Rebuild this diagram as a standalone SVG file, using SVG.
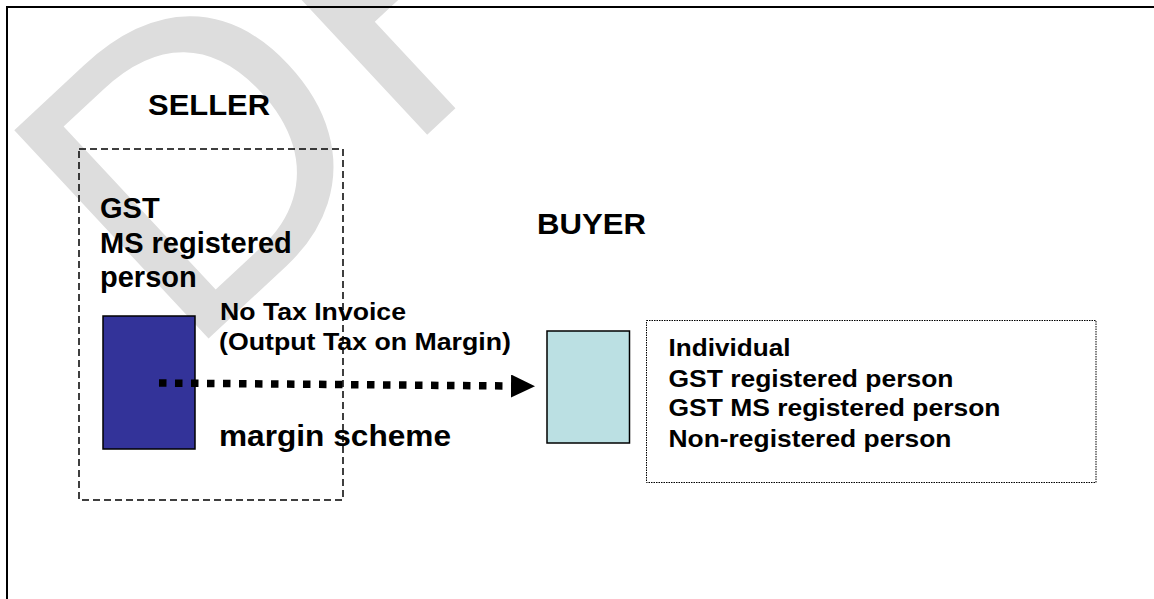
<svg xmlns="http://www.w3.org/2000/svg" width="1154" height="599" viewBox="0 0 1154 599">
<defs>
<style>
.t{font-family:"Liberation Sans",Arial,sans-serif;font-weight:bold;fill:#000}
.big{font-size:29px}
.small{font-size:24px}
.wm{font-family:"Liberation Sans",Arial,sans-serif;font-size:414px;fill:#dddddd}
</style>
<marker id="ah" markerUnits="userSpaceOnUse" markerWidth="25" markerHeight="24" refX="0" refY="11.5" orient="auto"><path d="M0,0 L24,11.5 L0,23 Z" fill="#000"/></marker>
</defs>
<rect width="1154" height="599" fill="#fff"/>
<g id="watermark">
<text class="wm" transform="translate(183.7,361.7) rotate(-43)">DRAFT</text>
</g>
<path id="frame" d="M7,600 V7 H1155" fill="none" stroke="#000" stroke-width="2"/>
<g id="seller">
<text class="t big" x="148" y="114.5" textLength="122" lengthAdjust="spacingAndGlyphs">SELLER</text>
<rect x="79" y="149" width="264" height="351" fill="none" stroke="#000" stroke-width="1.5" stroke-dasharray="7 4"/>
<text class="t big" x="100" y="218.3">GST</text>
<text class="t big" x="100" y="253">MS registered</text>
<text class="t big" x="100" y="287">person</text>
</g>
<g id="seller-doc">
<rect x="103" y="316" width="92" height="133" fill="#333399" stroke="#000" stroke-width="1.5"/>
</g>
<g id="invoice-label">
<text class="t small" x="220" y="319.5" textLength="186" lengthAdjust="spacingAndGlyphs">No Tax Invoice</text>
<text class="t small" x="219" y="349.5" textLength="292" lengthAdjust="spacingAndGlyphs">(Output Tax on Margin)</text>
</g>
<g id="scheme-label">
<text class="t" style="font-size:30px" x="219" y="446" textLength="232" lengthAdjust="spacingAndGlyphs">margin scheme</text>
</g>
<g id="buyer">
<text class="t big" x="537" y="234" textLength="109" lengthAdjust="spacingAndGlyphs">BUYER</text>
</g>
<g id="buyer-doc">
<rect x="547" y="331" width="82.5" height="112" fill="#bbe0e3" stroke="#000" stroke-width="1.5"/>
</g>
<g id="buyer-list">
<rect x="646.5" y="320.5" width="449.5" height="162" fill="none" stroke="#000" stroke-width="1" stroke-dasharray="1.5 1"/>
<text class="t small" x="668.5" y="356" textLength="122" lengthAdjust="spacingAndGlyphs">Individual</text>
<text class="t small" x="668.5" y="386.5" textLength="285" lengthAdjust="spacingAndGlyphs">GST registered person</text>
<text class="t small" x="668.5" y="416" textLength="332" lengthAdjust="spacingAndGlyphs">GST MS registered person</text>
<text class="t small" x="668.5" y="447" textLength="283" lengthAdjust="spacingAndGlyphs">Non-registered person</text>
</g>
<g id="connectors">
<line x1="159" y1="383" x2="511" y2="386" stroke="#000" stroke-width="7.5" stroke-dasharray="7.5 8.5" marker-end="url(#ah)"/>
</g>
</svg>
